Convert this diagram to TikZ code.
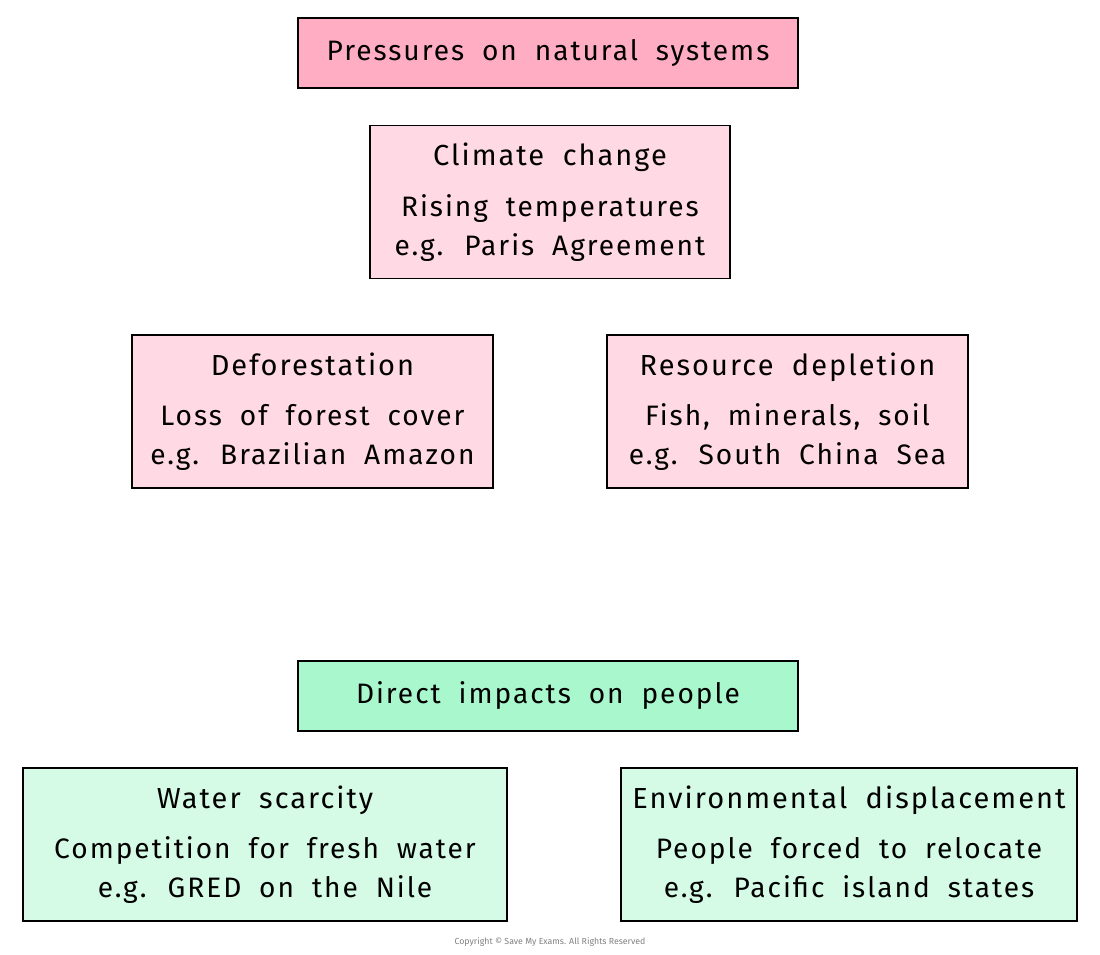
\documentclass[tikz,border=0pt]{standalone}
\usepackage{fontspec}
\setmainfont{Fira Sans}[LetterSpace=7,WordSpace=1.9]
\newfontfamily\plainfont{Fira Sans}
\definecolor{headpink}{HTML}{FFADC3}
\definecolor{lightpink}{HTML}{FFD9E3}
\definecolor{headgreen}{HTML}{A9F7CD}
\definecolor{lightgreen}{HTML}{D5FBE7}
\tikzset{
  box/.style={draw=black,thick,align=center,inner sep=0pt,font=\fontsize{16}{22}\selectfont},
  head/.style={box,minimum width=10cm,minimum height=1.4cm},
  item/.style={box,fill=lightpink,minimum height=3.06cm}
}
\newcommand{\boxtitle}[1]{{\fontsize{16.5}{22}\selectfont #1}}
\begin{document}
\begin{tikzpicture}[x=0.02cm,y=-0.02cm]
  \useasboundingbox (0,0) rectangle (1100,955);
  % pressures
  \node[head,fill=headpink] (press) at (548,53) {Pressures on natural systems};
  \node[item,minimum width=7.2cm] (climate) at (550,202)
    {\boxtitle{Climate change}\\[7pt]Rising temperatures\\e.g. Paris Agreement};
  \node[item,minimum width=7.22cm] (defor) at (312.5,411.5)
    {\boxtitle{Deforestation}\\[7pt]Loss of forest cover\\e.g. Brazilian Amazon};
  \node[item,minimum width=7.22cm] (resource) at (787.5,411.5)
    {\boxtitle{Resource depletion}\\[7pt]Fish, minerals, soil\\e.g. South China Sea};
  % impacts
  \node[head,fill=headgreen] (impact) at (548,696) {Direct impacts on people};
  \node[item,fill=lightgreen,minimum width=9.68cm] (water) at (265,844.5)
    {\boxtitle{Water scarcity}\\[7pt]Competition for fresh water\\e.g. GRED on the Nile};
  \node[item,fill=lightgreen,minimum width=9.12cm] (displace) at (849,844.5)
    {\boxtitle{Environmental displacement}\\[7pt]People forced to relocate\\e.g. Pacific island states};
  \node[font=\plainfont\fontsize{5}{6}\selectfont,text=gray] (copy) at (550,942) {Copyright © Save My Exams. All Rights Reserved};
\end{tikzpicture}
\end{document}
